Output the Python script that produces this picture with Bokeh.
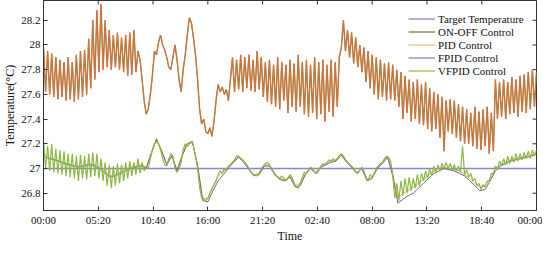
from bokeh.plotting import figure
from bokeh.models import FixedTicker, Legend, LegendItem, Range1d
from bokeh.embed import file_html
from bokeh.resources import INLINE

# ---------------- data ----------------
x_tick_labels = ["00:00", "05:20", "10:40", "16:00", "21:20", "02:40", "08:00", "13:20", "18:40", "00:00"]
x_tick_step_h = 16 / 3          # 5 h 20 min between labels
y_tick_values = [26.8, 27.0, 27.2, 27.4, 27.6, 27.8, 28.0, 28.2]
y_tick_labels = ["26.8", "27", "27.2", "27.4", "27.6", "27.8", "28", "28.2"]

fine_step_h = 0.2     # sampling of ON-OFF and VFPID (hours)
coarse_step_h = 0.5   # sampling of PID and FPID (hours)

target_times = [0, 48]
target_values = [27.0, 27.0]

onoff_values = [
    27.98, 27.62, 27.95, 27.60, 27.93, 27.58, 27.90, 27.56, 27.88, 27.58,
    27.86, 27.55, 27.90, 27.56, 27.86, 27.54, 27.92, 27.56, 27.95, 27.58,
    27.96, 27.60, 28.05, 27.65, 28.20, 27.72, 28.28, 27.78, 28.33, 27.80,
    28.20, 27.82, 28.12, 27.80, 28.08, 27.82, 28.10, 27.80, 28.06, 27.78,
    28.08, 27.75, 28.10, 27.76, 28.12, 27.78, 27.95, 27.88, 27.72, 27.55,
    27.44, 27.48, 27.60, 27.75, 27.95, 27.92, 28.02, 28.08, 28.00, 27.96,
    27.90, 27.82, 27.80, 27.90, 28.00, 27.88, 27.72, 27.62, 27.80, 27.92,
    28.08, 28.22, 28.18, 28.06, 27.92, 27.72, 27.48, 27.36, 27.40, 27.30,
    27.28, 27.33, 27.26, 27.38, 27.55, 27.68, 27.62, 27.66, 27.60, 27.64,
    27.55, 27.72, 27.90, 27.62, 27.88, 27.64, 27.92, 27.62, 27.90, 27.65,
    27.92, 27.63, 27.88, 27.62, 27.95, 27.64, 27.90, 27.58, 27.86, 27.54,
    27.88, 27.52, 27.84, 27.50, 27.90, 27.48, 27.86, 27.55, 27.84, 27.45,
    27.88, 27.50, 27.85, 27.46, 27.92, 27.50, 27.86, 27.44, 27.88, 27.42,
    27.84, 27.45, 27.90, 27.40, 27.86, 27.44, 27.88, 27.38, 27.84, 27.46,
    27.88, 27.42, 27.86, 27.50, 27.90, 27.98, 28.20, 27.95, 28.12, 27.90,
    28.10, 27.85, 28.06, 27.82, 28.00, 27.78, 27.98, 27.70, 27.95, 27.65,
    27.92, 27.60, 27.90, 27.56, 27.88, 27.58, 27.85, 27.55, 27.86, 27.56,
    27.84, 27.55, 27.80, 27.50, 27.78, 27.40, 27.75, 27.45, 27.72, 27.38,
    27.70, 27.40, 27.72, 27.36, 27.68, 27.35, 27.70, 27.32, 27.65, 27.30,
    27.62, 27.32, 27.60, 27.25, 27.58, 27.14, 27.55, 27.30, 27.56, 27.28,
    27.55, 27.25, 27.52, 27.22, 27.50, 27.20, 27.48, 27.20, 27.45, 27.18,
    27.50, 27.16, 27.46, 27.15, 27.48, 27.18, 27.50, 27.12, 27.45, 27.14,
    27.72, 27.40, 27.70, 27.42, 27.72, 27.40, 27.70, 27.44, 27.74, 27.45,
    27.72, 27.42, 27.75, 27.46, 27.76, 27.45, 27.78, 27.48, 27.80, 27.50,
    27.78,
]

vfpid_values = [
    27.22, 27.00, 27.18, 26.98, 27.20, 26.97, 27.16, 26.96, 27.15, 26.95,
    27.14, 26.94, 27.12, 26.93, 27.12, 26.92, 27.10, 26.90, 27.11, 26.92,
    27.10, 26.91, 27.12, 26.93, 27.13, 26.94, 27.12, 26.92, 27.08, 26.90,
    27.05, 26.86, 27.03, 26.84, 27.02, 26.86, 27.04, 26.88, 27.03, 26.90,
    27.05, 26.92, 27.06, 26.94, 27.05, 26.95, 27.08, 26.96, 27.05, 26.98,
    27.02, 27.00, 27.08, 27.15, 27.20, 27.22, 27.20, 27.15, 27.08, 27.03,
    27.02, 27.08, 27.12, 27.10, 27.00, 26.97, 27.00, 27.05, 27.15, 27.20,
    27.18, 27.20, 27.22, 27.18, 27.10, 27.00, 26.85, 26.76, 26.75, 26.74,
    26.76, 26.80, 26.84, 26.87, 26.90, 26.95, 26.98, 26.96, 27.00, 26.98,
    27.02, 27.03, 27.05, 27.07, 27.10, 27.10, 27.08, 27.07, 27.05, 27.03,
    27.00, 26.97, 26.95, 26.95, 26.94, 26.96, 27.00, 27.02, 27.04, 27.05,
    27.03, 27.00, 26.97, 26.95, 26.93, 26.92, 26.94, 26.92, 26.90, 26.92,
    26.95, 26.93, 26.88, 26.85, 26.84, 26.88, 26.93, 26.97, 26.96, 26.99,
    27.01, 27.00, 26.97, 26.96, 26.98, 27.02, 27.04, 27.03, 27.05, 27.07,
    27.06, 27.08, 27.06, 27.08, 27.10, 27.12, 27.10, 27.07, 27.05, 27.03,
    27.02, 27.00, 26.97, 26.96, 26.99, 27.01, 26.98, 26.93, 26.90, 26.95,
    26.93, 26.96, 27.00, 27.02, 27.04, 27.05, 27.08, 27.10, 27.09, 27.06,
    26.95, 26.76, 26.88, 26.74, 26.90, 26.78, 26.92, 26.80, 26.93, 26.82,
    26.92, 26.84, 26.95, 26.86, 26.96, 26.90, 26.98, 26.92, 27.00, 26.94,
    27.02, 26.96, 27.03, 26.98, 27.04, 27.00, 27.05, 27.00, 27.04, 26.99,
    27.03, 26.98, 27.02, 26.97, 27.18, 26.95, 26.99, 26.93, 26.96, 26.90,
    26.92, 26.86, 26.88, 26.83, 26.87, 26.85, 26.90, 26.90, 26.96, 26.96,
    27.02, 27.00, 27.06, 27.02, 27.08, 27.03, 27.10, 27.04, 27.10, 27.05,
    27.12, 27.06, 27.12, 27.07, 27.13, 27.08, 27.14, 27.08, 27.15, 27.10,
    27.15,
]

pid_values = [
    27.12, 27.09, 27.08, 27.06, 27.05, 27.03, 27.02, 27.02, 27.03, 27.04,
    27.03, 27.00, 26.97, 26.94, 26.95, 26.97, 26.99, 27.01, 27.02, 27.03,
    27.01, 27.13, 27.23, 27.15, 27.04, 27.11, 26.99, 27.11, 27.20, 27.21,
    27.03, 26.76, 26.76, 26.85, 26.94, 26.97, 27.02, 27.06, 27.10, 27.06,
    27.00, 26.95, 26.96, 27.03, 27.03, 26.96, 26.92, 26.91, 26.94, 26.86,
    26.88, 26.96, 27.01, 26.97, 27.02, 27.04, 27.06, 27.07, 27.12, 27.06,
    27.02, 26.97, 27.00, 26.91, 26.93, 27.01, 27.05, 27.10, 26.96, 26.76,
    26.80, 26.82, 26.85, 26.88, 26.91, 26.95, 26.98, 27.00, 27.01, 27.00,
    26.99, 26.98, 26.95, 26.92, 26.88, 26.85, 26.86, 26.92, 26.99, 27.03,
    27.05, 27.07, 27.08, 27.09, 27.10, 27.11, 27.13,
]

fpid_values = [
    27.10, 27.08, 27.07, 27.06, 27.04, 27.03, 27.02, 27.01, 27.02, 27.03,
    27.02, 27.00, 26.96, 26.93, 26.94, 26.96, 26.98, 27.00, 27.01, 27.02,
    27.00, 27.12, 27.24, 27.14, 27.03, 27.10, 26.98, 27.10, 27.20, 27.22,
    27.02, 26.74, 26.73, 26.82, 26.90, 26.95, 27.00, 27.05, 27.09, 27.05,
    26.99, 26.94, 26.95, 27.02, 27.02, 26.95, 26.91, 26.90, 26.93, 26.85,
    26.86, 26.95, 27.00, 26.96, 27.01, 27.03, 27.05, 27.06, 27.11, 27.05,
    27.01, 26.96, 27.00, 26.90, 26.92, 27.00, 27.04, 27.09, 26.94, 26.72,
    26.75, 26.78, 26.80, 26.84, 26.88, 26.92, 26.96, 26.98, 27.00, 26.99,
    26.98, 26.96, 26.94, 26.90, 26.86, 26.82, 26.83, 26.90, 26.98, 27.02,
    27.04, 27.06, 27.07, 27.08, 27.09, 27.10, 27.12,
]

fine_times = [i * fine_step_h for i in range(len(onoff_values))]
coarse_times = [i * coarse_step_h for i in range(len(pid_values))]

FONT = "Liberation Serif"
X0, X1 = 0, 48
Y0, Y1 = 26.66, 28.36
FRAME_W, FRAME_H = 493, 210
TICK_PX = 4

# ---------------- figure ----------------
p = figure(frame_width=FRAME_W, frame_height=FRAME_H,
           output_backend="svg", toolbar_location=None,
           x_range=Range1d(X0, X1), y_range=Range1d(Y0, Y1),
           min_border_left=0, min_border_right=6, min_border_top=0, min_border_bottom=0)
p.xgrid.visible = False
p.ygrid.visible = False
p.outline_line_color = "#333333"
p.outline_line_width = 1
p.background_fill_color = "white"

x_ticks = [i * x_tick_step_h for i in range(len(x_tick_labels))]
x_over = {t: lab for t, lab in zip(x_ticks, x_tick_labels)}
y_over = {v: s for v, s in zip(y_tick_values, y_tick_labels)}

def style_axis(ax):
    ax.axis_line_color = "#333333"
    ax.major_tick_line_color = "#333333"
    ax.major_tick_in = TICK_PX
    ax.major_tick_out = 0
    ax.minor_tick_line_color = None
    ax.major_label_text_font = FONT
    ax.major_label_text_color = "#111111"
    ax.major_label_text_font_size = "11px"
    ax.axis_label_text_font = FONT
    ax.axis_label_text_font_style = "normal"
    ax.axis_label_text_color = "#111111"
    ax.axis_label_text_font_size = "12px"

xa = p.xaxis[0]
xa.ticker = FixedTicker(ticks=x_ticks)
xa.major_label_overrides = x_over
xa.axis_label = "Time"
xa.major_label_standoff = 3
xa.axis_label_standoff = 0
style_axis(xa)

ya = p.yaxis[0]
ya.ticker = FixedTicker(ticks=y_tick_values)
ya.major_label_overrides = y_over
ya.axis_label = "Temperature(°C)"
ya.major_label_standoff = 3
ya.axis_label_standoff = 1
style_axis(ya)

# inward ticks on the top and right edges of the box
dy_tick = TICK_PX * (Y1 - Y0) / FRAME_H
dx_tick = TICK_PX * (X1 - X0) / FRAME_W
p.segment(x0=x_ticks, x1=x_ticks, y0=[Y1] * len(x_ticks), y1=[Y1 - dy_tick] * len(x_ticks),
          line_color="#333333", line_width=1)
p.segment(x0=[X1] * len(y_tick_values), x1=[X1 - dx_tick] * len(y_tick_values),
          y0=y_tick_values, y1=y_tick_values, line_color="#333333", line_width=1)

# ---------------- series ----------------
r_target = p.line(target_times, target_values, line_color="#8686D6", line_width=1.3)
r_onoff = p.line(fine_times, onoff_values, line_color="#8E8A3C", line_width=1.4)
p.line(fine_times, onoff_values, line_color="#EC6A40", line_width=0.8)
r_pid = p.line(coarse_times, pid_values, line_color="#E3A43A", line_width=0.9)
r_fpid = p.line(coarse_times, fpid_values, line_color="#5E5890", line_width=0.9)
r_vfpid = p.line(fine_times, vfpid_values, line_color="#8DB843", line_width=1.2)

LEG_PAD = 2
LEG_ROW = 13
legend = Legend(items=[
    LegendItem(label="Target Temperature", renderers=[r_target]),
    LegendItem(label="ON-OFF Control", renderers=[r_onoff]),
    LegendItem(label="PID Control", renderers=[r_pid]),
    LegendItem(label="FPID Control", renderers=[r_fpid]),
    LegendItem(label="VFPID Control", renderers=[r_vfpid]),
], location=(365, FRAME_H - 8 - (5 * LEG_ROW + 2 * LEG_PAD)))
legend.label_text_font = FONT
legend.label_text_font_size = "11px"
legend.label_text_color = "#111111"
legend.glyph_width = 27
legend.glyph_height = LEG_ROW
legend.label_height = LEG_ROW
legend.label_standoff = 3
legend.spacing = 0
legend.padding = LEG_PAD
legend.margin = 0
legend.border_line_color = None
legend.background_fill_alpha = 0.0
p.add_layout(legend)

open("out.html", "w").write(file_html(p, INLINE))
